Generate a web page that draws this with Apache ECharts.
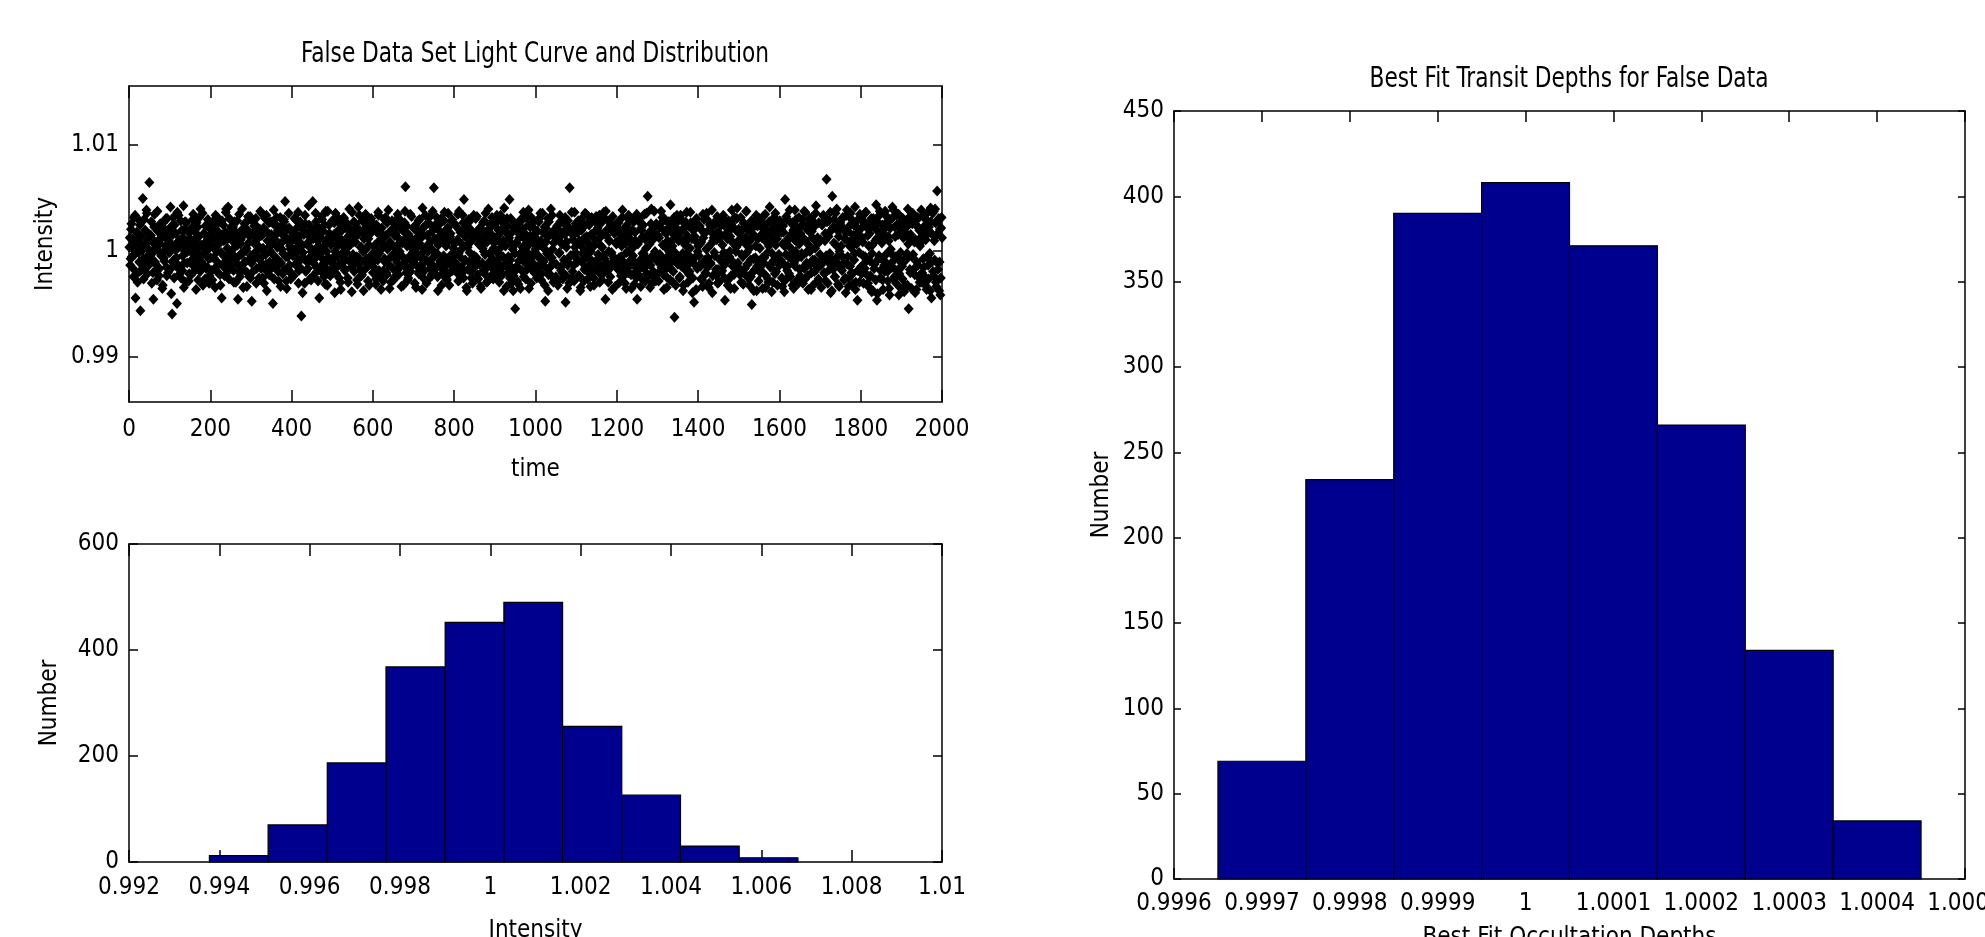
<!DOCTYPE html>
<html>
<head>
<meta charset="utf-8">
<script src="https://cdn.jsdelivr.net/npm/echarts@6/dist/echarts.min.js"></script>
<style>
html,body{margin:0;padding:0;background:#fff;}
#chart{width:1985px;height:937px;}
</style>
</head>
<body>
<div id="chart"></div>
<script>
// ---- Data ----
// Light curve: intensity offsets from 1, in units of 1e-4.
// intensityOffsetEven: samples at t = 2, 4, ..., 2000 ; intensityOffsetOdd: samples at t = 1, 3, ..., 1999
const intensityOffsetEven = [
12,-8,25,3,-17,31,-4,-45,9,-22,16,-2,28,-57,7,-13,49,-27,4,19,-9,35,-15,1,64,
-6,14,-31,8,-46,22,-11,3,-19,37,5,-24,11,-3,18,-36,26,-7,0,13,-16,30,-21,9,-2,
41,-41,-60,15,-9,24,-14,6,-50,2,33,-18,10,-26,19,-5,42,-12,27,-30,7,-1,17,-22,11,
-10,21,-3,34,-20,8,-15,26,1,-28,13,-6,39,-11,4,-33,16,-2,23,-17,9,29,-8,-24,14,
5,-19,27,-7,12,-35,20,-1,31,-13,8,-23,15,-45,-4,24,-16,10,36,-9,2,41,-27,18,-6,
-14,9,22,-30,3,17,-8,28,-46,11,-21,6,-3,39,14,-18,25,-11,0,-34,19,7,-25,32,-5,
-48,16,-9,23,-2,30,-17,5,12,-26,20,-7,35,-13,2,-31,18,-4,33,-20,9,26,-11,-1,15,
-3,-50,38,11,-16,24,-8,19,-29,6,31,-12,1,-22,14,27,46,-6,-36,9,-18,21,4,-27,13,
10,-24,17,-5,29,-14,3,36,-19,8,-9,-62,22,-2,15,-31,25,-10,6,-17,42,-7,19,-28,1,
46,-12,20,-4,27,-20,9,14,-45,3,-15,32,-8,18,-25,5,37,-1,-33,12,24,-10,-19,7,28,
-7,15,-40,35,-22,11,4,-14,26,-30,18,-3,9,31,-17,-9,21,2,-26,13,39,-11,6,-39,16,
8,-20,13,25,-6,-32,41,-13,19,3,-24,28,-1,11,-18,34,-8,22,-29,5,15,-12,30,-4,-21,
-16,24,2,-27,17,-9,33,-3,10,-37,21,6,-19,29,-11,14,-23,1,38,-14,8,-30,19,-5,26,
3,-25,16,-8,30,-18,11,-1,23,-34,7,19,-12,26,60,-21,4,-28,15,-6,34,-15,9,-2,21,
-9,20,-35,12,-4,28,-20,6,17,-13,40,-26,2,-10,24,-31,14,-1,31,-17,8,-23,18,-7,59,
11,-17,25,-3,-38,19,7,-12,30,-22,15,-5,36,-15,4,-28,21,9,-33,13,-8,27,-19,2,-11,
-4,23,-14,10,-29,37,-6,18,1,-21,26,48,-10,13,-35,5,-18,29,-2,20,-26,11,-9,33,-16,
16,-7,32,-23,6,-13,21,-36,12,2,-19,28,-4,17,-30,9,39,-11,24,-15,-1,14,-27,7,-20,
-12,27,-2,14,-25,8,33,-17,19,-6,-38,23,4,-14,30,-21,11,48,-9,-31,17,1,-24,26,-55,
7,-15,21,-32,12,-4,29,-19,3,36,-11,16,-27,6,-2,24,-36,13,-8,31,-18,9,-13,20,1,
-20,10,-6,27,-14,35,-28,4,17,-10,22,-48,8,-3,30,-23,14,-16,39,-7,1,-30,19,12,-25,
13,-29,20,-3,33,-16,7,-21,26,-9,15,-49,3,-36,28,-12,59,-5,18,-26,10,-14,36,-2,22,
-8,17,-24,9,-38,29,-11,21,2,-18,35,-5,13,-27,7,24,-14,-1,31,-20,16,-33,5,27,-10,
19,-4,11,-30,25,-15,3,-22,36,-8,-46,14,-19,28,-1,9,-25,20,-12,32,-6,16,-34,7,23,
-13,26,-7,18,-24,4,38,-17,11,-31,22,-2,15,-21,29,-10,6,-36,19,-5,27,-15,9,-26,-46,
6,-18,30,-9,21,-27,13,-3,34,-14,2,-22,51,-11,17,-35,25,-6,10,-20,37,-1,-29,14,-8,
-21,12,-4,25,-16,31,-8,-37,18,3,-25,20,-12,27,-2,43,-18,9,-30,15,-63,22,-7,33,-13,
9,-26,17,-10,28,-3,-33,21,5,-19,36,-14,11,-23,2,26,-9,-40,19,-49,13,-6,30,-17,4,
-5,23,-15,8,-28,34,-11,16,-21,1,29,-7,-35,20,-13,6,38,-24,12,-2,24,-18,10,-31,17,
14,-9,27,-20,5,33,-14,-47,22,-4,11,-28,18,-1,-36,25,-10,7,-23,31,-15,3,40,-12,20,
-17,8,-30,19,-6,26,-22,12,37,-2,-13,21,-33,9,-25,-51,16,-8,28,-18,4,-38,23,-11,30,
2,-21,15,-7,32,-12,24,-35,8,19,-27,4,41,-16,13,-3,-30,22,-9,35,-20,11,-5,27,-14,
-10,20,-26,6,17,-39,48,-4,29,-15,10,-22,3,26,-8,-33,19,-12,38,-1,14,-28,7,31,-18,
16,-6,24,-31,11,-17,36,-2,20,-24,5,30,-13,-37,18,-9,27,-20,2,42,-15,12,-27,8,-4,
-14,25,-8,33,-21,9,-29,67,15,-11,28,-3,-40,19,51,-18,7,-25,35,-7,22,-32,13,-1,26,
4,-19,31,-12,18,-26,10,38,-6,-34,23,-15,3,29,-22,14,-9,41,-30,6,-47,20,-2,34,-16,
-22,12,-5,27,-17,36,-10,21,-31,4,16,-24,30,-3,-38,25,-13,9,43,-47,18,-8,33,-26,11,
7,-28,19,-14,37,-4,24,-20,13,-36,29,1,-16,41,-10,-27,22,-6,33,-19,15,-42,26,-2,-12,
-15,30,-9,22,-33,16,-3,39,-55,11,-21,27,-6,35,-18,8,-40,24,-11,31,-25,19,4,-30,13,
18,-8,34,-25,10,-37,28,-14,22,-3,40,-45,15,-20,37,-9,26,-34,56,-18,30,-11,-42,21,12
];
const intensityOffsetOdd = [
3,-14,20,-6,11,-25,8,33,-2,17,-30,5,-11,24,-19,13,0,-8,29,-16,6,38,-22,10,-4,
15,-9,27,-3,-21,9,34,-13,2,-28,18,7,-17,25,-5,12,-33,21,-10,4,30,-24,14,-1,19,
-18,6,23,-11,31,-26,1,16,-7,36,-14,9,-22,28,3,-19,12,-35,20,-2,26,-12,7,-29,17,
10,-23,4,29,-15,18,-6,-37,13,22,-9,31,-20,5,-12,35,-3,16,-27,8,24,-16,1,-31,21,
-7,19,-28,12,2,-17,33,-10,25,-21,6,14,-33,-2,28,-13,9,-24,17,39,-5,11,-19,30,-14,
22,-3,12,-19,27,-8,-30,16,5,-14,34,-25,10,-4,20,-35,15,-11,26,2,-21,32,-9,13,-26,
-12,28,-20,7,-4,24,-31,11,19,-8,2,37,-17,14,-26,21,-1,30,-13,-38,9,16,-23,4,27,
6,-16,25,-27,14,-9,31,3,-20,18,-12,-34,23,8,-3,29,-18,12,-29,20,-6,35,-14,1,-22,
17,-5,-24,30,-13,9,-2,22,-31,13,27,-17,4,-40,19,-8,33,-20,6,15,-11,24,-27,10,-1,
-25,11,18,-8,35,-16,3,-29,21,-4,12,-20,29,1,-13,24,-32,8,-18,37,-7,16,-24,5,-10,
13,-21,26,-1,-15,32,-6,19,-26,10,-37,23,-11,4,30,-19,7,-2,25,-30,14,-9,20,-16,36,
-4,27,-13,8,21,-28,15,-7,33,-18,3,-23,17,-38,26,-10,1,22,-15,11,-33,29,-5,18,-12,
20,-10,5,-32,24,-3,36,-19,9,-24,16,2,-29,12,-8,31,-21,26,-13,3,-36,18,-6,28,-17,
-28,14,-2,22,-11,34,-23,7,-15,28,-5,19,-33,10,37,-16,23,-8,-26,13,4,-20,32,-11,6,
9,-31,24,-14,3,17,-22,29,-6,12,-37,21,-1,-19,33,-9,14,-28,6,25,-13,2,-24,37,-15,
-2,22,-17,31,-25,5,13,-10,26,-33,8,-18,28,-7,19,-27,10,35,-12,-21,16,-4,29,-15,7,
25,-12,8,-21,34,-3,-28,17,-16,6,33,-26,14,-9,22,-38,3,18,-11,28,-20,9,-31,15,-5,
-15,30,-7,16,-27,11,21,-34,4,-12,26,-1,-22,35,-17,8,-29,20,-3,13,-24,31,-8,2,24,
11,-20,33,-9,19,-30,2,-15,27,-23,9,40,-13,17,-34,23,-6,12,-26,30,-16,5,-38,21,-3,
-19,7,-29,25,-10,15,-36,28,-1,20,-25,11,-8,31,-18,4,38,-14,22,-31,10,-4,27,-21,16,
4,-26,18,-5,30,-15,9,-22,35,-11,2,-33,21,-17,13,-38,27,-6,16,-24,33,-12,7,-28,20,
-13,23,-33,12,-2,27,-19,6,-27,17,-9,31,-24,8,-14,22,-31,18,-5,36,-20,14,-29,3,25,
18,-11,28,-24,7,-35,19,-3,23,-29,12,-16,34,-7,26,-21,1,-34,15,-10,29,-26,11,-18,32,
-9,21,-14,33,-22,4,-28,15,-5,30,-19,37,-12,20,-30,9,-17,25,-2,-37,18,-8,23,-13,6,
26,-18,10,-30,16,-6,31,-25,20,-12,7,-36,24,-1,33,-15,11,-23,29,-9,3,-32,17,-20,34,
-22,8,-12,26,-34,19,-3,24,-17,11,-29,35,-8,15,-24,6,-14,39,-31,20,-4,12,-27,25,-10,
14,-29,22,-8,37,-13,5,-23,30,-18,16,-35,9,-5,25,-28,18,-11,4,-20,31,-2,-33,13,27,
-6,17,-25,33,-15,9,-38,21,-10,27,-4,14,-30,23,-20,36,-7,11,-26,19,-13,28,-37,8,-1,
23,-14,6,-27,19,-34,12,29,-9,-22,35,-16,3,-31,24,-12,17,-40,9,26,-5,15,-24,32,-18,
-30,12,-8,24,-19,31,-2,-26,15,-11,22,-33,28,-6,13,-24,38,-15,7,-36,20,-1,30,-20,9,
16,-23,31,-4,10,-32,25,-17,6,37,-13,19,-27,2,-9,28,-21,14,-38,23,-7,33,-15,11,-29,
-11,26,-19,12,-36,20,-7,34,-24,15,-2,-30,27,-14,8,-39,18,-10,31,-22,5,24,-33,16,-4,
28,-9,17,-34,23,-13,4,-28,32,-19,11,-6,38,-25,15,-3,26,-36,10,-15,29,-8,21,-31,6,
-24,13,-3,29,-16,37,-27,9,-12,24,-37,18,-1,30,-21,12,-33,22,-9,35,-18,7,-29,26,-14,
10,-35,24,-11,32,-22,16,-5,27,-31,13,-18,36,-8,-38,21,-14,29,-25,5,39,-12,18,-34,23,
-17,29,-6,21,-28,11,-40,33,-13,18,-26,4,35,-21,10,-32,24,-3,-37,15,28,-19,9,-30,20,
31,-15,8,-31,25,-6,36,-23,14,-34,20,-10,27,-39,5,30,-17,22,-28,11,-41,26,-5,37,-19,
-8,24,-37,15,-20,33,-12,27,-29,9,-42,21,-3,30,-16,38,-25,13,-31,24,-7,34,-22,16,-36,
19,-27,12,-39,28,-9,22,-33,6,31,-18,15,-36,25,-4,33,-23,10,-37,29,-14,21,-30,7,38,
-21,32,-16,23,-33,14,-6,36,-27,18,-38,27,-11,35,-24,9,39,-30,15,-12,28,-38,20,-26,31
];

// Intensity distribution histogram (10 bins)
const intensityBinEdges = [0.99378,0.99508,0.99639,0.99769,0.99900,1.00030,1.00160,1.00291,1.00421,1.00551,1.00681];
const intensityCounts = [12,70,187,368,452,490,256,126,30,8];

// Best fit depth histogram (8 bins, width 1e-4)
const depthBinEdges = [0.99965,0.99975,0.99985,0.99995,1.00005,1.00015,1.00025,1.00035,1.00045];
const depthCounts = [69,234,390,408,371,266,134,34];

// Tick values
const lcYTicks = [0.99, 1, 1.01];

// ---- Build ----
const lightCurve = [];
intensityOffsetOdd.forEach((d, i) => lightCurve.push([2 * i + 1, 1 + d / 10000]));
intensityOffsetEven.forEach((d, i) => lightCurve.push([2 * i + 2, 1 + d / 10000]));
const histData = (edges, counts) => counts.map((c, i) => [edges[i], edges[i + 1], c]);

const FONT = "'DejaVu Sans Condensed','Liberation Sans',sans-serif";
const FS = 24;
const BLUE = '#00008F';

function fmt(v) { return String(parseFloat(Number(v).toFixed(6))); }

function axisPair(kind, grid, opts, tickLen, label) {
  const common = {
    type: 'value', gridIndex: grid, min: opts.min, max: opts.max,
    interval: opts.interval, splitLine: { show: false },
    axisLine: { show: true, onZero: false, lineStyle: { color: '#000', width: 1.5 } },
  };
  const main = Object.assign({}, common, {
    position: kind === 'x' ? 'bottom' : 'left',
    axisTick: { show: true, inside: true, length: tickLen, lineStyle: { color: '#000', width: 1.5 } },
    axisLabel: { show: true, color: '#000', fontFamily: FONT, fontSize: FS,
      margin: label.margin, formatter: fmt, showMinLabel: true, showMaxLabel: true, hideOverlap: false },
    name: label.name, nameLocation: 'middle', nameGap: label.nameGap,
    nameTextStyle: { color: '#000', fontFamily: FONT, fontSize: FS },
  });
  const other = Object.assign({}, common, {
    position: kind === 'x' ? 'top' : 'right',
    axisTick: { show: true, inside: true, length: tickLen, lineStyle: { color: '#000', width: 1.5 } },
    axisLabel: { show: false },
  });
  if (opts.customTicks) {
    delete main.interval; delete other.interval;
    main.axisTick.customValues = opts.customTicks;
    main.axisLabel.customValues = opts.customTicks;
    other.axisTick.customValues = opts.customTicks;
  }
  return [main, other];
}

const xAxes = [], yAxes = [];
// grid 0 : light curve
xAxes.push(...axisPair('x', 0, { min: 0, max: 2000, interval: 200 }, 12, { margin: 16, name: 'time', nameGap: 56 }));
yAxes.push(...axisPair('y', 0, { min: 0.9857, max: 1.0155, customTicks: lcYTicks }, 9, { margin: 10, name: 'Intensity', nameGap: 71 }));
// grid 1 : intensity histogram
xAxes.push(...axisPair('x', 1, { min: 0.992, max: 1.01, interval: 0.002 }, 12, { margin: 14, name: 'Intensity', nameGap: 57 }));
yAxes.push(...axisPair('y', 1, { min: 0, max: 600, interval: 200 }, 9, { margin: 10, name: 'Number', nameGap: 67 }));
// grid 2 : depth histogram
xAxes.push(...axisPair('x', 2, { min: 0.9996, max: 1.0005, interval: 0.0001 }, 11, { margin: 13, name: 'Best Fit Occultation Depths', nameGap: 47 }));
yAxes.push(...axisPair('y', 2, { min: 0, max: 450, interval: 50 }, 7, { margin: 10, name: 'Number', nameGap: 60 }));

function histRender(params, api) {
  const p0 = api.coord([api.value(0), api.value(2)]);
  const p1 = api.coord([api.value(1), 0]);
  return {
    type: 'rect',
    shape: { x: p0[0], y: p0[1], width: p1[0] - p0[0], height: p1[1] - p0[1] },
    style: { fill: BLUE, stroke: '#000', lineWidth: 1.2 }
  };
}

const option = {
  backgroundColor: '#fff',
  animation: false,
  grid: [
    { left: 129, top: 86, width: 813, height: 316, containLabel: false, outerBoundsMode: 'none' },
    { left: 129, top: 544, width: 813, height: 318, containLabel: false, outerBoundsMode: 'none' },
    { left: 1174, top: 111, width: 791, height: 768, containLabel: false, outerBoundsMode: 'none' }
  ],
  xAxis: xAxes,
  yAxis: yAxes,
  graphic: [
    { type: 'text', x: 535, y: 55, scaleX: 0.86, style: { text: 'False Data Set Light Curve and Distribution', fontFamily: FONT, fontSize: 28, fill: '#000', align: 'center', verticalAlign: 'middle' } },
    { type: 'text', x: 1569, y: 80, scaleX: 0.86, style: { text: 'Best Fit Transit Depths for False Data', fontFamily: FONT, fontSize: 28, fill: '#000', align: 'center', verticalAlign: 'middle' } }
  ],
  series: [
    { type: 'scatter', xAxisIndex: 0, yAxisIndex: 0, data: lightCurve, symbol: 'diamond', symbolSize: [10, 11],
      itemStyle: { color: '#000', opacity: 1 }, silent: true, large: false },
    { type: 'custom', xAxisIndex: 2, yAxisIndex: 2, data: histData(intensityBinEdges, intensityCounts), renderItem: histRender, silent: true },
    { type: 'custom', xAxisIndex: 4, yAxisIndex: 4, data: histData(depthBinEdges, depthCounts), renderItem: histRender, silent: true }
  ]
};

const chart = echarts.init(document.getElementById('chart'), null, { renderer: 'canvas' });
chart.setOption(option);
</script>
</body>
</html>
